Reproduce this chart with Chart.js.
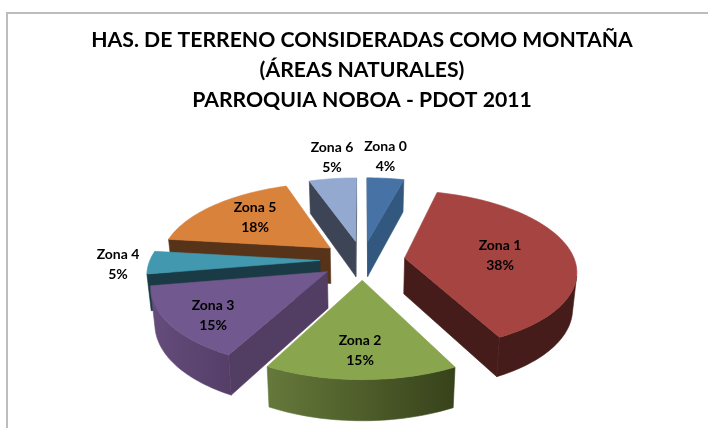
<!DOCTYPE html>
<html><head><meta charset="utf-8">
<style>
html,body{margin:0;padding:0;background:#fff;width:708px;height:428px;overflow:hidden}
#wrap{position:relative;width:708px;height:428px}
#frame{position:absolute;left:6px;top:12px;right:0;bottom:0;border-top:2px solid #bdbdbd;border-left:2px solid #bdbdbd}
canvas{position:absolute;left:0;top:0}
</style>
<script src="https://cdn.jsdelivr.net/npm/chart.js@4"></script>
</head><body><div id="wrap"><div id="frame"></div><canvas id="c" width="708" height="428"></canvas></div>
<script>
const categories = ['Zona 0','Zona 1','Zona 2','Zona 3','Zona 4','Zona 5','Zona 6'];
const shares = [4.1, 38.4, 15.2, 14.6, 4.6, 17.8, 5.3];
const titleLines = ['HAS. DE TERRENO CONSIDERADAS COMO MONTAÑA','(ÁREAS NATURALES)','PARROQUIA NOBOA - PDOT 2011'];

const topColors  = ['#4672a6','#a64442','#89a54e','#71588f','#4198af','#d9823c','#93a9cf'];
const sideColors = ['#33587f','#451c19','#4a5a2a','#523d63','#1a3b45','#57331a','#3c4456'];
const curveStart = ['#33587f','#4a1d1a','#37421a','#553f68','#1a3b45','#57331a','#3c4456'];
const curveEnd   = ['#33587f','#451c19','#66793b','#654c7c','#1a3b45','#57331a','#3c4456'];
const labelAnchors = [[385.5,146],[500,245],[360,340],[213,305],[118,254],[255,207],[332,147]];

const view = {cx:362.5, cy:260, a:170, b:78, k:0.148, depth:36, explode:0.25, taper:0.02};

function project(mid, radius, t, z){
  const u = view.explode*Math.sin(mid) + radius*Math.sin(t);
  const v = -view.explode*Math.cos(mid) - radius*Math.cos(t);
  const s = 1/(1 - view.k*v);
  return [view.cx + view.a*u*s*(1 - view.taper*z),
          view.cy + view.b*v*s + view.depth*Math.pow(s,0.65)*z];
}
function area(p){let s=0;for(let i=0;i<p.length;i++){const q=p[(i+1)%p.length];s+=p[i][0]*q[1]-q[0]*p[i][1];}return s;}
function fillPoly(ctx,p,col){
  ctx.beginPath();p.forEach((q,i)=>i?ctx.lineTo(q[0],q[1]):ctx.moveTo(q[0],q[1]));ctx.closePath();
  ctx.fillStyle=col;ctx.strokeStyle=col;ctx.lineWidth=0.6;ctx.fill();ctx.stroke();
}
const pie3d = {
  id:'pie3d',
  beforeDatasetDraw(chart,args){
    const ctx=chart.ctx, arcs=chart.getDatasetMeta(args.index).data;
    const items=arcs.map((arc,i)=>{
      const t0=arc.startAngle+Math.PI/2, t1=arc.endAngle+Math.PI/2, mid=(t0+t1)/2;
      return {i,t0,t1,mid,order:-Math.cos(mid)};
    }).sort((p,q)=>p.order-q.order);
    ctx.save();
    items.forEach(({i,t0,t1,mid})=>{
      const apexT=project(mid,0,mid,0), apexB=project(mid,0,mid,1);
      const w0=[apexT,project(mid,1,t0,0),project(mid,1,t0,1),apexB];
      const w1=[project(mid,1,t1,0),apexT,apexB,project(mid,1,t1,1)];
      if(area(w0)<0) fillPoly(ctx,w0,sideColors[i]);
      if(area(w1)<0) fillPoly(ctx,w1,sideColors[i]);
      const steps=Math.max(8,Math.round((t1-t0)*40));
      const upper=[],lower=[];
      for(let n=0;n<steps;n++){
        const a=t0+(t1-t0)*n/steps,b=t0+(t1-t0)*(n+1)/steps;
        const q=[project(mid,1,a,0),project(mid,1,b,0),project(mid,1,b,1),project(mid,1,a,1)];
        if(area(q)<0){
          if(!upper.length){upper.push(q[0]);lower.push(q[3]);}
          upper.push(q[1]);lower.push(q[2]);
        }
      }
      if(upper.length){
        const xa=project(mid,1,t0,0)[0], xb=project(mid,1,t1,0)[0];
        const g=ctx.createLinearGradient(xa,0,xb===xa?xa+1:xb,0);
        g.addColorStop(0,curveStart[i]);g.addColorStop(1,curveEnd[i]);
        fillPoly(ctx,upper.concat(lower.reverse()),g);
      }
      const top=[apexT];
      for(let n=0;n<=steps;n++) top.push(project(mid,1,t0+(t1-t0)*n/steps,0));
      fillPoly(ctx,top,topColors[i]);
    });
    ctx.restore();
    return false;
  },
  afterDatasetsDraw(chart){
    const ctx=chart.ctx, vals=chart.data.datasets[0].data, total=vals.reduce((a,b)=>a+b,0);
    ctx.save();
    ctx.font='bold 14px Lato';ctx.fillStyle='#000';ctx.textAlign='center';ctx.textBaseline='middle';
    vals.forEach((v,i)=>{
      const [x,y]=labelAnchors[i];
      ctx.fillText(chart.data.labels[i],x,y);
      ctx.fillText(Math.round(v/total*100)+'%',x,y+20);
    });
    ctx.restore();
  }
};
new Chart(document.getElementById('c'),{
  type:'pie',
  data:{labels:categories,datasets:[{data:shares,backgroundColor:topColors,borderWidth:0}]},
  plugins:[pie3d],
  options:{
    responsive:false,animation:false,
    layout:{padding:{left:16}},
    plugins:{
      legend:{display:false},tooltip:{enabled:false},
      title:{display:true,text:titleLines,color:'#000',align:'center',
        font:{family:'Lato',weight:'bold',size:21.2,lineHeight:1.41},
        padding:{top:25,bottom:10}}
    }
  }
});
</script></body></html>
